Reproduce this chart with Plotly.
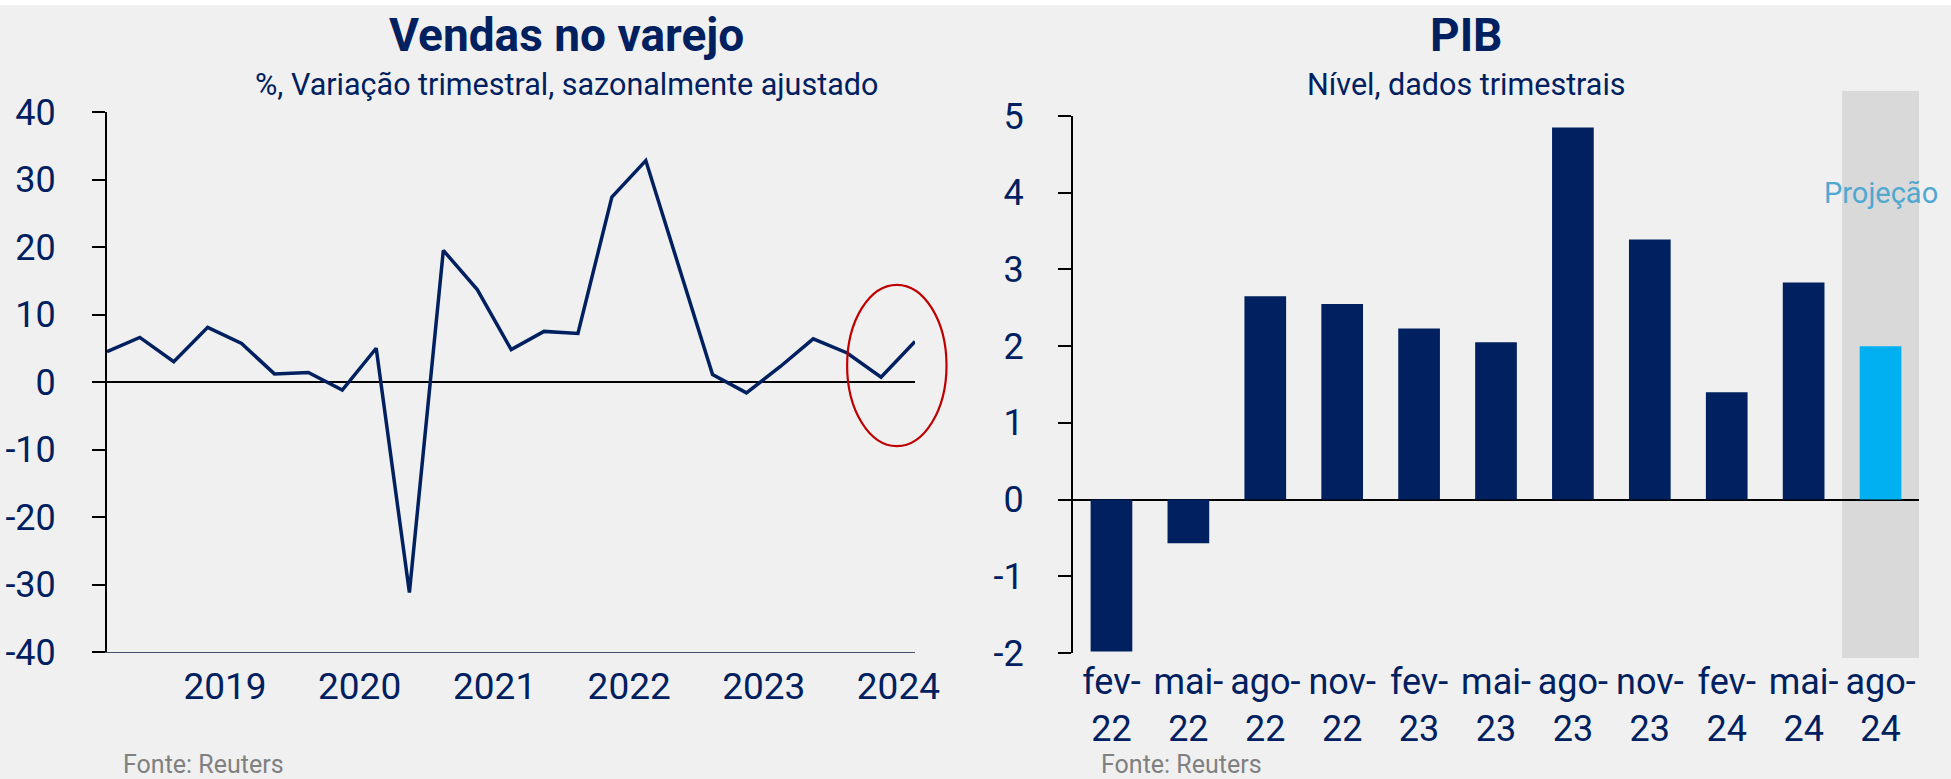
import plotly.graph_objects as go

# ---------------- data ----------------
vendas_datas = [
    "2018-02-15", "2018-05-15", "2018-08-15", "2018-11-15",
    "2019-02-15", "2019-05-15", "2019-08-15", "2019-11-15",
    "2020-02-15", "2020-05-15", "2020-08-15", "2020-11-15",
    "2021-02-15", "2021-05-15", "2021-08-15", "2021-11-15",
    "2022-02-15", "2022-05-15", "2022-08-15", "2022-11-15",
    "2023-02-15", "2023-05-15", "2023-08-15", "2023-11-15",
    "2024-02-15",
]
vendas_valores = [4.5, 6.6, 3.0, 8.1, 5.7, 1.2, 1.4, -1.2, 5.0, -31.2,
                  19.5, 13.7, 4.8, 7.5, 7.2, 27.4, 32.8, 17.4, 1.1, -1.6,
                  2.3, 6.4, 4.3, 0.7, 6.0]
vendas_yticks = [-40, -30, -20, -10, 0, 10, 20, 30, 40]
vendas_yticktext = ["-40", "-30", "-20", "-10", "0", "10", "20", "30", "40"]

pib_categorias = ["fev-<br>22", "mai-<br>22", "ago-<br>22", "nov-<br>22",
                  "fev-<br>23", "mai-<br>23", "ago-<br>23", "nov-<br>23",
                  "fev-<br>24", "mai-<br>24", "ago-<br>24"]
pib_valores = [-1.98, -0.57, 2.65, 2.55, 2.23, 2.05, 4.85, 3.39, 1.40, 2.83, 2.0]
pib_projecao = [False] * 10 + [True]
pib_yticks = [-2, -1, 0, 1, 2, 3, 4, 5]
pib_yticktext = ["-2", "-1", "0", "1", "2", "3", "4", "5"]

# ---------------- style ----------------
W, H = 1951, 779
FONT = "Roboto"
NAVY = "#002060"
LIGHT = "#00B0F0"
BG = "#F0F0F0"

def px_x(p):
    return p / W

def px_y(p):
    return 1 - p / H

L_X = [px_x(107), px_x(915)]
L_Y = [px_y(652), px_y(112)]
R_X = [px_x(1073), px_x(1919)]
R_Y = [px_y(653), px_y(116)]

VY_MIN, VY_MAX = -40, 40
PY_MIN, PY_MAX = -2, 5

fig = go.Figure()

fig.add_trace(go.Scatter(
    x=vendas_datas, y=vendas_valores, mode="lines",
    line=dict(color=NAVY, width=3.5), xaxis="x", yaxis="y",
    showlegend=False, hoverinfo="x+y",
))

fig.add_trace(go.Bar(
    x=pib_categorias, y=pib_valores, xaxis="x2", yaxis="y2",
    marker=dict(color=[LIGHT if p else NAVY for p in pib_projecao], line=dict(width=0)),
    showlegend=False,
))

zero_pos = L_Y[0] + (0 - VY_MIN) / (VY_MAX - VY_MIN) * (L_Y[1] - L_Y[0])

ytickfont = dict(family=FONT, size=36, color=NAVY)

fig.update_layout(
    width=W, height=H,
    margin=dict(l=0, r=0, t=0, b=0),
    paper_bgcolor="white",
    plot_bgcolor=BG,
    font=dict(family=FONT, color=NAVY),
    bargap=0.458,
    xaxis=dict(
        domain=L_X, anchor="y", type="date",
        range=[vendas_datas[0], vendas_datas[-1]],
        tick0="2019-01-01", dtick="M12", tickformat="%Y",
        ticks="", showline=True, linecolor="#44546A", linewidth=1,
        showgrid=False, zeroline=False, tickfont=dict(family=FONT, size=37, color=NAVY),
        ticklabelstandoff=2, automargin=False,
    ),
    xaxis3=dict(
        domain=L_X, anchor="free", overlaying="x", position=zero_pos, type="date",
        range=[vendas_datas[0], vendas_datas[-1]],
        tick0="2019-01-01", dtick="M12",
        ticks="outside", ticklen=13, tickwidth=2, tickcolor="black",
        showticklabels=False, showline=False, showgrid=False, zeroline=False,
        automargin=False,
    ),
    yaxis=dict(
        domain=L_Y, anchor="x", range=[VY_MIN, VY_MAX],
        tickmode="array", tickvals=vendas_yticks, ticktext=vendas_yticktext,
        ticks="outside", ticklen=13, tickwidth=2, tickcolor="black",
        showline=True, linecolor="black", linewidth=2,
        zeroline=True, zerolinecolor="black", zerolinewidth=2,
        showgrid=False, tickfont=ytickfont, ticklabelstandoff=29, automargin=False,
    ),
    xaxis2=dict(
        domain=R_X, anchor="y2", type="category", range=[-0.5, len(pib_categorias) - 0.5],
        ticks="", showline=False, showgrid=False, zeroline=False,
        tickfont=dict(family=FONT, size=36, color=NAVY), tickangle=0,
        ticklabelstandoff=4, automargin=False,
    ),
    yaxis2=dict(
        domain=R_Y, anchor="x2", range=[PY_MIN, PY_MAX],
        tickmode="array", tickvals=pib_yticks, ticktext=pib_yticktext,
        ticks="outside", ticklen=13, tickwidth=2, tickcolor="black",
        showline=True, linecolor="black", linewidth=2,
        zeroline=True, zerolinecolor="black", zerolinewidth=2,
        showgrid=False, tickfont=ytickfont, ticklabelstandoff=27, automargin=False,
    ),
)

shapes = [
    # grey background panel (below a thin white strip at the top)
    dict(type="rect", xref="paper", yref="paper", x0=0, x1=1, y0=0, y1=px_y(5),
         fillcolor=BG, line=dict(width=0), layer="below"),
    # projection band
    dict(type="rect", xref="x2", yref="y2 domain", x0=len(pib_categorias) - 1.5,
         x1=len(pib_categorias) - 0.5, y0=-5 / 537, y1=1 + 25 / 537,
         fillcolor="#D9D9D9", line=dict(width=0), layer="below"),
    # red ellipse highlight
    dict(type="circle", xref="x domain", yref="y", x0=0.916, x1=1.039, y0=-9.5, y1=14.4,
         line=dict(color="#C00000", width=2.2), fillcolor="rgba(0,0,0,0)", layer="above"),
]
fig.update_layout(shapes=shapes)

annotations = [
    dict(text="<b>Vendas no varejo</b>", x=px_x(566), y=px_y(35), xref="paper", yref="paper",
         showarrow=False, xanchor="center", yanchor="middle",
         font=dict(family=FONT, size=46, color=NAVY)),
    dict(text="%, Variação trimestral, sazonalmente ajustado", x=px_x(566), y=px_y(84),
         xref="paper", yref="paper", showarrow=False, xanchor="center", yanchor="middle",
         font=dict(family=FONT, size=30.5, color=NAVY)),
    dict(text="<b>PIB</b>", x=px_x(1466), y=px_y(35), xref="paper", yref="paper",
         showarrow=False, xanchor="center", yanchor="middle",
         font=dict(family=FONT, size=46, color=NAVY)),
    dict(text="Nível, dados trimestrais", x=px_x(1466), y=px_y(84),
         xref="paper", yref="paper", showarrow=False, xanchor="center", yanchor="middle",
         font=dict(family=FONT, size=30.5, color=NAVY)),
    dict(text="Projeção", x=len(pib_categorias) - 1, y=4.0, xref="x2", yref="y2",
         showarrow=False, xanchor="center", yanchor="middle",
         font=dict(family=FONT, size=29, color="#4FA8D0")),
    dict(text="Fonte: Reuters", x=px_x(121), y=px_y(764), xref="paper", yref="paper",
         showarrow=False, xanchor="left", yanchor="middle",
         font=dict(family=FONT, size=25, color="#808080")),
    dict(text="Fonte: Reuters", x=px_x(1099), y=px_y(764), xref="paper", yref="paper",
         showarrow=False, xanchor="left", yanchor="middle",
         font=dict(family=FONT, size=25, color="#808080")),
]
fig.update_layout(annotations=annotations)

fig.write_html(
    "out.html",
    config={"displayModeBar": False},
    post_script="document.body.style.margin='0';document.body.style.overflow='hidden';",
)
